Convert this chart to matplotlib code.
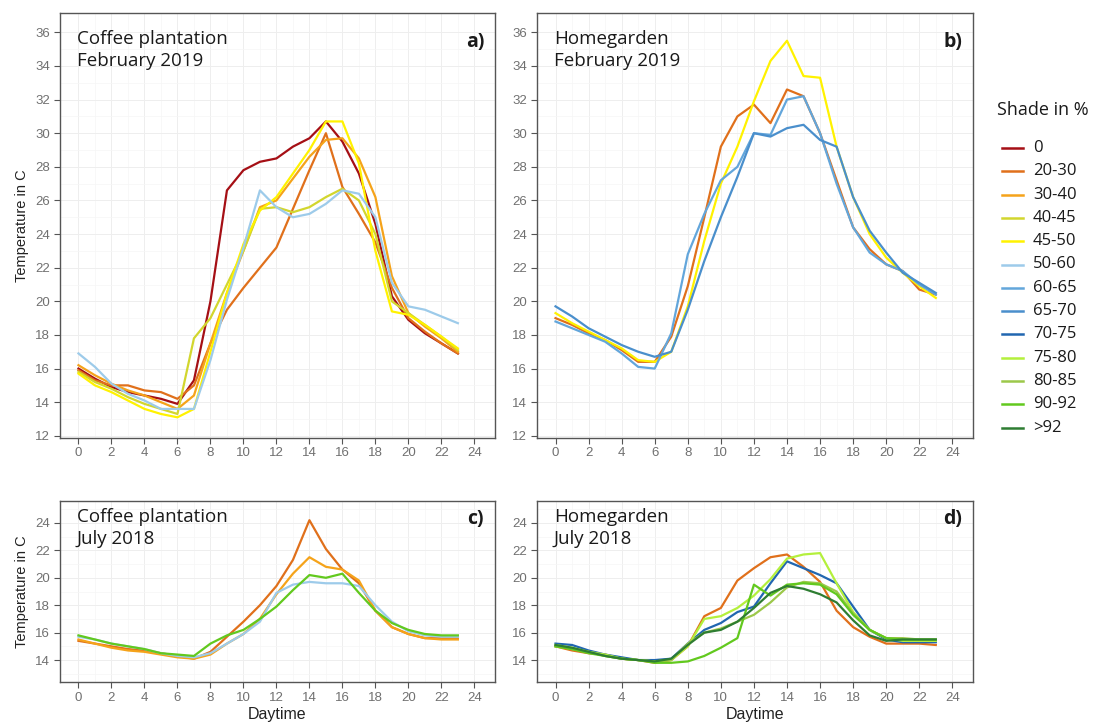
import matplotlib.pyplot as plt
import numpy as np

plt.rcParams['font.family'] = ['Liberation Sans', 'DejaVu Sans']

hours = list(range(24))

shade_classes = ['0', '20-30', '30-40', '40-45', '45-50', '50-60', '60-65',
                 '65-70', '70-75', '75-80', '80-85', '90-92', '>92']
shade_colors = ['#A50F15', '#E0701B', '#F5A31A', '#D2D62E', '#FFF200', '#9DCBEA',
                '#63A6DB', '#4A8FCC', '#2166B0', '#B4F03C', '#9CC84A', '#62C91E', '#2E7D32']

# a) Coffee plantation, February 2019
a_0 = [16.0, 15.4, 14.9, 14.6, 14.4, 14.2, 13.9, 15.3, 20.0, 26.6, 27.8, 28.3,
       28.5, 29.2, 29.7, 30.7, 29.5, 27.6, 24.6, 20.3, 18.9, 18.1, 17.5, 16.9]
a_20_30 = [15.9, 15.3, 15.0, 15.0, 14.7, 14.6, 14.2, 15.0, 17.5, 19.5, 20.8, 22.0,
           23.2, 25.5, 27.8, 30.0, 26.8, 25.2, 23.5, 20.8, 19.0, 18.2, 17.5, 16.9]
a_30_40 = [16.2, 15.6, 15.1, 14.7, 14.4, 14.0, 13.6, 14.4, 17.5, 20.5, 23.0, 25.6,
           26.0, 27.3, 28.6, 29.6, 29.7, 28.5, 26.2, 21.5, 19.3, 18.5, 17.8, 17.0]
a_40_45 = [15.8, 15.2, 14.8, 14.3, 13.9, 13.6, 13.3, 17.8, 19.0, 21.0, 23.0, 25.5,
           25.6, 25.3, 25.6, 26.2, 26.7, 26.0, 24.0, 20.0, 19.3, 18.6, 17.9, 17.1]
a_45_50 = [15.7, 15.0, 14.6, 14.1, 13.6, 13.3, 13.1, 13.6, 17.0, 20.5, 23.4, 25.4,
           26.2, 27.6, 29.0, 30.7, 30.7, 28.2, 23.0, 19.4, 19.2, 18.6, 17.9, 17.2]
a_50_60 = [16.9, 16.1, 15.1, 14.5, 14.1, 13.6, 13.6, 13.6, 16.5, 20.1, 23.2, 26.6,
           25.6, 25.0, 25.2, 25.8, 26.6, 26.4, 25.0, 21.1, 19.7, 19.5, 19.1, 18.7]

# b) Homegarden, February 2019
b_20_30 = [19.0, 18.6, 18.1, 17.7, 17.1, 16.4, 16.4, 17.9, 20.9, 25.0, 29.2, 31.0,
           31.7, 30.6, 32.6, 32.2, 30.0, 27.2, 24.4, 23.1, 22.2, 21.8, 20.7, 20.4]
b_45_50 = [19.3, 18.7, 18.2, 17.7, 17.2, 16.5, 16.4, 17.0, 19.7, 23.6, 27.0, 29.2,
           31.9, 34.3, 35.5, 33.4, 33.3, 29.2, 26.2, 24.0, 22.6, 21.7, 20.9, 20.2]
b_60_65 = [18.8, 18.4, 18.0, 17.6, 16.9, 16.1, 16.0, 18.1, 22.8, 25.2, 27.2, 28.0,
           30.0, 29.9, 32.0, 32.2, 30.0, 27.0, 24.4, 22.9, 22.2, 21.8, 21.0, 20.4]
b_65_70 = [19.7, 19.1, 18.4, 17.9, 17.4, 17.0, 16.7, 17.0, 19.5, 22.4, 25.0, 27.4,
           30.0, 29.8, 30.3, 30.5, 29.6, 29.2, 26.2, 24.2, 22.9, 21.7, 21.1, 20.5]

# c) Coffee plantation, July 2018
c_20_30 = [15.4, 15.2, 15.0, 14.8, 14.7, 14.5, 14.3, 14.1, 14.6, 15.7, 16.8, 18.0,
           19.4, 21.3, 24.2, 22.1, 20.6, 19.6, 17.6, 16.4, 15.9, 15.6, 15.6, 15.6]
c_30_40 = [15.5, 15.2, 14.9, 14.7, 14.6, 14.4, 14.2, 14.1, 14.4, 15.2, 15.9, 17.0,
           18.8, 20.3, 21.5, 20.8, 20.6, 19.8, 17.6, 16.4, 15.9, 15.6, 15.5, 15.5]
c_50_60 = [15.7, 15.5, 15.2, 15.0, 14.8, 14.5, 14.3, 14.2, 14.5, 15.2, 15.9, 16.8,
           18.9, 19.5, 19.7, 19.6, 19.6, 19.4, 18.0, 16.8, 16.1, 15.8, 15.7, 15.7]
c_90_92 = [15.8, 15.5, 15.2, 15.0, 14.8, 14.5, 14.4, 14.3, 15.2, 15.8, 16.2, 17.0,
           17.9, 19.1, 20.2, 20.0, 20.3, 18.9, 17.6, 16.7, 16.2, 15.9, 15.8, 15.8]

# d) Homegarden, July 2018
d_20_30 = [15.0, 14.7, 14.5, 14.4, 14.1, 14.0, 13.8, 14.0, 15.0, 17.2, 17.8, 19.8,
           20.7, 21.5, 21.7, 20.8, 19.7, 17.6, 16.4, 15.7, 15.2, 15.2, 15.2, 15.1]
d_70_75 = [15.2, 15.1, 14.7, 14.4, 14.2, 14.0, 14.0, 14.1, 15.2, 16.2, 16.7, 17.5,
           17.9, 19.6, 21.2, 20.7, 20.2, 19.6, 17.9, 16.2, 15.5, 15.3, 15.3, 15.3]
d_75_80 = [15.1, 14.9, 14.6, 14.4, 14.1, 14.0, 13.9, 14.0, 15.0, 17.0, 17.2, 17.8,
           18.7, 19.9, 21.4, 21.7, 21.8, 19.6, 17.5, 16.2, 15.6, 15.4, 15.4, 15.4]
d_80_85 = [15.0, 14.8, 14.6, 14.3, 14.1, 14.0, 13.9, 14.0, 15.2, 16.0, 16.3, 16.8,
           17.3, 18.2, 19.3, 19.7, 19.6, 19.0, 17.4, 16.2, 15.6, 15.6, 15.5, 15.5]
d_90_92 = [15.0, 14.8, 14.5, 14.3, 14.1, 14.0, 13.8, 13.8, 13.9, 14.3, 14.9, 15.6,
           19.5, 18.7, 19.5, 19.6, 19.5, 18.8, 17.3, 16.2, 15.6, 15.5, 15.5, 15.5]
d_92 = [15.1, 14.9, 14.6, 14.3, 14.1, 14.0, 13.9, 14.1, 15.1, 16.0, 16.2, 16.8,
        17.8, 18.9, 19.4, 19.2, 18.8, 18.2, 16.9, 15.8, 15.4, 15.5, 15.5, 15.5]

panels = [
    ('a)', 'Coffee plantation\nFebruary 2019',
     {'0': a_0, '20-30': a_20_30, '30-40': a_30_40, '40-45': a_40_45,
      '45-50': a_45_50, '50-60': a_50_60}),
    ('b)', 'Homegarden\nFebruary 2019',
     {'20-30': b_20_30, '45-50': b_45_50, '60-65': b_60_65, '65-70': b_65_70}),
    ('c)', 'Coffee plantation\nJuly 2018',
     {'20-30': c_20_30, '30-40': c_30_40, '50-60': c_50_60, '90-92': c_90_92}),
    ('d)', 'Homegarden\nJuly 2018',
     {'20-30': d_20_30, '70-75': d_70_75, '75-80': d_75_80, '80-85': d_80_85,
      '90-92': d_90_92, '>92': d_92}),
]

W, H = 1106, 726
fig = plt.figure(figsize=(W / 100, H / 100), dpi=100)

def px_axes(x0, y0, x1, y1):
    return fig.add_axes([x0 / W, 1 - y1 / H, (x1 - x0) / W, (y1 - y0) / H])

boxes = [(59.5, 13, 495, 437.5), (536.5, 13, 973, 437.5),
         (59.5, 501, 495, 682), (536.5, 501, 973, 682)]
ylims = [(11.9, 37.15), (11.9, 37.15), (12.4, 25.6), (12.4, 25.6)]
color_of = dict(zip(shade_classes, shade_colors))
txt_font = ['Open Sans', 'DejaVu Sans']

for i, (tag, title, series) in enumerate(panels):
    ax = px_axes(*boxes[i])
    for name, vals in series.items():
        ax.plot(hours, vals, color=color_of[name], lw=1.6, solid_joinstyle='round')
    ax.set_xlim(-1.15, 25.25)
    ax.set_ylim(*ylims[i])
    ax.set_xticks(range(0, 25, 2))
    ax.set_xticks(range(1, 25, 2), minor=True)
    if i < 2:
        ax.set_yticks(range(12, 37, 2))
        ax.set_yticks(range(13, 37, 2), minor=True)
    else:
        ax.set_yticks(range(14, 25, 2))
        ax.set_yticks(range(13, 26, 2), minor=True)
    ax.grid(True, which='major', color='#EEEEEE', lw=0.7)
    ax.grid(True, which='minor', color='#F6F6F6', lw=0.5)
    ax.set_axisbelow(True)
    ax.tick_params(which='major', direction='out', length=4, width=0.8,
                   color='#555555', labelcolor='#707070', labelsize=9.5, pad=3)
    ax.tick_params(which='minor', length=0)
    for s in ax.spines.values():
        s.set_color('#555555')
        s.set_linewidth(1.0)
    ax.text(0.04, 0.96, title, transform=ax.transAxes, ha='left', va='top',
            fontsize=13.5, family=txt_font, color='#1A1A1A', linespacing=1.3)
    ax.text(0.975, 0.955, tag, transform=ax.transAxes, ha='right', va='top',
            fontsize=14, fontweight='bold', family=txt_font, color='#1A1A1A')
    if i % 2 == 0:
        ax.set_ylabel('Temperature in C', fontsize=10.5, color='#222222', labelpad=4)
    if i >= 2:
        ax.set_xlabel('Daytime', fontsize=11.5, color='#222222', labelpad=2)

# legend
fig.text(997 / W, 1 - 110 / H, 'Shade in %', fontsize=13, va='center', ha='left',
         family=txt_font, color='#1A1A1A')
for k, (name, col) in enumerate(zip(shade_classes, shade_colors)):
    yy = 1 - (148 + k * 23.3) / H
    fig.add_artist(plt.Line2D([1002 / W, 1023 / W], [yy, yy], color=col, lw=1.8))
    fig.text(1033 / W, yy, name, fontsize=12, va='center', ha='left',
             family=txt_font, color='#1A1A1A')

fig.savefig('out.png', dpi=100, facecolor='white')
